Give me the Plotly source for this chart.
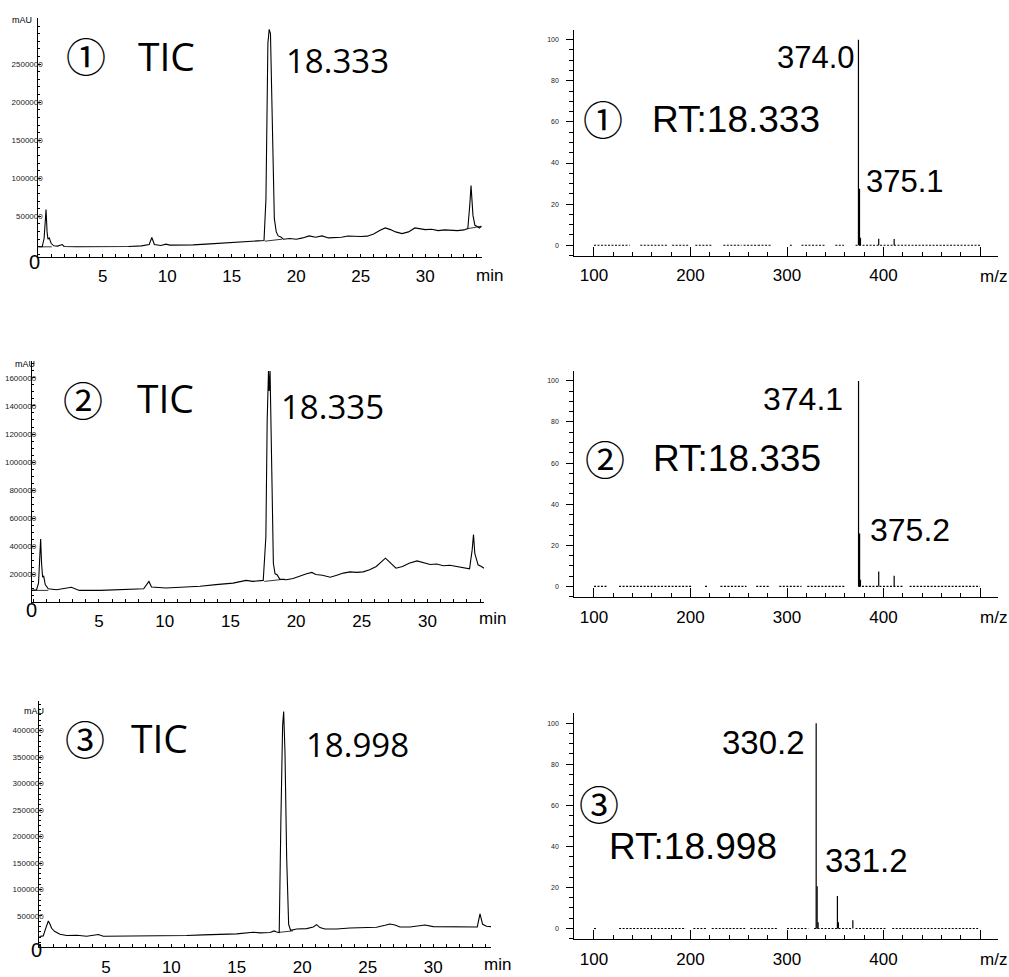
import plotly.graph_objects as go

W, H = 1009, 977

# ---------------- Chromatogram 1 (TIC, peak 18.333) ----------------
tic1_time = [0.0, 0.3, 0.45, 0.55, 0.6, 0.68, 0.75, 0.85, 1.0, 1.2, 1.5, 1.85, 2.0, 3.0, 4.0, 5.0,
             6.0, 7.0, 8.0, 8.6, 8.8, 9.0, 9.5, 9.9, 10.2, 11.0, 12.0, 13.0, 14.0, 15.0, 16.0,
             17.0, 17.5, 17.65, 17.8, 17.9, 18.0, 18.15, 18.3, 18.45, 18.6, 18.8, 19.0, 19.5,
             20.0, 20.5, 21.0, 21.5, 22.0, 22.5, 23.0, 23.5, 24.0, 24.5, 25.0, 25.5, 26.0, 26.5,
             26.9, 27.3, 27.7, 28.2, 28.7, 29.2, 29.5, 30.0, 30.5, 31.0, 31.5, 32.0, 32.5, 33.0,
             33.3, 33.45, 33.55, 33.7, 33.85, 34.0, 34.2, 34.35]
tic1_int = [100000, 100000, 209000, 556000, 591000, 296000, 200000, 217000, 143000, 113000, 109000,
            130000, 104000, 100000, 100000, 104000, 100000, 104000, 113000, 130000, 222000, 130000,
            117000, 135000, 122000, 122000, 126000, 135000, 148000, 157000, 170000, 178000, 183000,
            730000, 2774000, 2957000, 2900000, 1817000, 470000, 296000, 243000, 230000, 200000,
            209000, 200000, 217000, 243000, 226000, 243000, 217000, 217000, 226000, 243000, 235000,
            235000, 240000, 268000, 318000, 348000, 326000, 296000, 274000, 296000, 348000, 339000,
            326000, 330000, 313000, 322000, 317000, 313000, 322000, 339000, 643000, 904000, 513000,
            383000, 370000, 348000, 370000]
tic1_base_time = [[0.0, 1.05], [17.57, 18.9], [33.3, 34.35]]
tic1_base_int = [[100000, 100000], [174000, 200000], [339000, 370000]]
tic1_yticks = [500000, 1000000, 1500000, 2000000, 2500000]

# ---------------- Chromatogram 2 (TIC, peak 18.335) ----------------
tic2_time = [-0.12, 0.25, 0.4, 0.5, 0.56, 0.63, 0.71, 0.79, 0.91, 1.14, 1.77, 2.9, 3.5, 5.1, 6.3,
             7.6, 8.4, 8.8, 9.0, 10.1, 11.4, 12.7, 13.9, 15.2, 16.2, 16.7, 17.5, 17.7, 17.8, 17.9,
             17.95, 18.02, 18.15, 18.27, 18.4, 18.55, 18.76, 19.26, 19.77, 20.3, 20.8, 21.2, 21.5,
             22.0, 22.6, 23.1, 23.6, 24.1, 24.6, 25.1, 25.6, 26.1, 26.5, 26.8, 27.0, 27.3, 27.6,
             28.1, 28.6, 29.2, 29.7, 30.2, 30.7, 31.2, 31.7, 32.2, 32.8, 33.2, 33.4, 33.5, 33.6,
             33.85, 34.1, 34.3]
tic2_int = [88000, 93000, 140000, 352000, 454000, 281000, 182000, 192000, 129000, 100000, 93000,
            110000, 88000, 88000, 93000, 98000, 100000, 152000, 112000, 105000, 112000, 117000,
            129000, 140000, 159000, 152000, 159000, 470000, 1295000, 1648000, 1507000, 1648000,
            941000, 281000, 206000, 199000, 168000, 164000, 173000, 192000, 206000, 216000, 201000,
            196000, 182000, 196000, 211000, 220000, 216000, 220000, 235000, 258000, 293000, 317000,
            300000, 270000, 246000, 258000, 281000, 298000, 286000, 272000, 276000, 263000, 267000,
            258000, 246000, 241000, 376000, 486000, 352000, 270000, 258000, 246000]
tic2_base_time = [[-0.12, 1.14], [17.58, 19.15]]
tic2_base_int = [[88000, 88000], [152000, 168000]]
tic2_yticks = [200000, 400000, 600000, 800000, 1000000, 1200000, 1400000, 1600000]

# ---------------- Chromatogram 3 (TIC, peak 18.998) ----------------
tic3_time = [-0.09, 0.21, 0.42, 0.6, 0.73, 0.85, 1.1, 1.49, 2.0, 2.77, 3.53, 4.42, 4.8, 6.07, 7.35,
             8.62, 9.89, 11.17, 12.44, 13.71, 14.99, 16.26, 16.77, 17.53, 17.86, 18.04, 18.24,
             18.37, 18.5, 18.58, 18.68, 18.81, 18.96, 19.11, 19.57, 20.34, 20.84, 21.1, 21.35,
             21.73, 22.63, 23.64, 24.66, 25.68, 26.32, 26.7, 27.08, 27.46, 28.23, 28.99, 29.37,
             30.01, 31.03, 32.05, 33.06, 33.37, 33.58, 33.78, 34.08, 34.42]
tic3_int = [112000, 124000, 281000, 406000, 343000, 268000, 206000, 156000, 131000, 137000, 118000,
            150000, 118000, 118000, 124000, 118000, 131000, 131000, 143000, 150000, 162000, 193000,
            181000, 187000, 218000, 199000, 188000, 2345000, 4096000, 4358000, 3595000, 1595000,
            343000, 231000, 255000, 262000, 293000, 337000, 281000, 255000, 255000, 274000, 274000,
            287000, 324000, 349000, 330000, 293000, 293000, 324000, 330000, 299000, 293000, 287000,
            281000, 293000, 540000, 343000, 306000, 299000]
tic3_base_time = [[18.2, 19.3]]
tic3_base_int = [[190000, 220000]]
tic3_yticks = [500000, 1000000, 1500000, 2000000, 2500000, 3000000, 3500000, 4000000]

# ---------------- Mass spectra ----------------
ms1_mz = [374.0, 375.1, 376.1, 395.0, 411.0]
ms1_int = [100, 27.5, 3.6, 3.2, 3.0]
ms1_noise = [[100, 137], [148, 176], [181, 199], [205, 222], [234, 253], [255, 270], [270, 284],
             [303, 305], [315, 339], [350, 359], [371, 500]]

ms2_mz = [374.1, 375.2, 376.1, 395.0, 411.0]
ms2_int = [100, 25.8, 3.2, 7.3, 5.2]
ms2_noise = [[100, 113], [126, 201], [215, 218], [231, 258], [268, 282], [292, 315], [321, 360],
             [374, 420], [427, 500]]

ms3_mz = [330.2, 331.2, 332.2, 352.2, 353.2, 368.2]
ms3_int = [100, 20.6, 3.0, 15.8, 3.0, 4.0]
ms3_noise = [[100, 103], [126, 195], [203, 216], [222, 257], [262, 291], [300, 322], [328, 367],
             [371, 403], [409, 498]]

ms_xticks = [100, 200, 300, 400, 500]
ms_xticktext = ["100", "200", "300", "400", ""]
ms_yticks = [0, 20, 40, 60, 80, 100]
tic_xticks = [5, 10, 15, 20, 25, 30]

# ---------------- layout helpers ----------------
def px(x):
    return x / W

def py(y):
    return 1 - y / H

fig = go.Figure()

# panel geometry in pixels: (x0, x1, ytop, ybot, xrange, yrange)
panels = {
    1: (38.3, 482, 18, 258.5, [0, 34.4], [-32600, 3107000]),
    2: (31.7, 484, 363, 605.7, [-0.12, 34.3], [5650, 1721000]),
    3: (39.3, 491, 705, 953.3, [-0.09, 34.42], [-93800, 4565000]),
    4: (574.3, 998.3, 30, 257.3, [79.6, 518.9], [-5.1, 104.8]),
    5: (574.3, 998.3, 373.3, 601, [79.6, 518.9], [-5.3, 104.8]),
    6: (574.3, 998.3, 717.7, 945, [79.6, 518.9], [-5.2, 104.8]),
}

line_style = dict(color="black", width=1.1)

def add_chrom(i, t, v, bt, bv):
    xa = "x" if i == 1 else f"x{i}"
    ya = "y" if i == 1 else f"y{i}"
    fig.add_trace(go.Scatter(x=t, y=v, mode="lines", line=line_style, xaxis=xa, yaxis=ya,
                             showlegend=False, hoverinfo="skip"))
    bx, by = [], []
    for a, b in zip(bt, bv):
        bx += a + [None]
        by += b + [None]
    fig.add_trace(go.Scatter(x=bx, y=by, mode="lines", line=dict(color="black", width=0.8),
                             xaxis=xa, yaxis=ya, showlegend=False, hoverinfo="skip"))

def add_ms(i, mz, inten, noise):
    xa = f"x{i}"
    ya = f"y{i}"
    nx, ny = [], []
    for a, b in noise:
        nx += [a, b, None]
        ny += [0, 0, None]
    fig.add_trace(go.Scatter(x=nx, y=ny, mode="lines",
                             line=dict(color="black", width=1.2, dash="2px,1.5px"),
                             xaxis=xa, yaxis=ya, showlegend=False, hoverinfo="skip"))
    sx, sy = [], []
    for m, h in zip(mz, inten):
        sx += [m, m, None]
        sy += [0, h, None]
    fig.add_trace(go.Scatter(x=sx, y=sy, mode="lines", line=dict(color="black", width=1.2),
                             xaxis=xa, yaxis=ya, showlegend=False, hoverinfo="skip"))

add_chrom(1, tic1_time, tic1_int, tic1_base_time, tic1_base_int)
add_chrom(2, tic2_time, tic2_int, tic2_base_time, tic2_base_int)
add_chrom(3, tic3_time, tic3_int, tic3_base_time, tic3_base_int)
add_ms(4, ms1_mz, ms1_int, ms1_noise)
add_ms(5, ms2_mz, ms2_int, ms2_noise)
add_ms(6, ms3_mz, ms3_int, ms3_noise)

axfont = "Liberation Sans, Arial, sans-serif"
layout = {}
chrom_yticks = {1: tic1_yticks, 2: tic2_yticks, 3: tic3_yticks}
chrom_minor = {1: 100000, 2: 50000, 3: 100000}
for i, (x0, x1, yt, yb, xr, yr) in panels.items():
    xk = "xaxis" if i == 1 else f"xaxis{i}"
    yk = "yaxis" if i == 1 else f"yaxis{i}"
    ya = "y" if i == 1 else f"y{i}"
    xa = "x" if i == 1 else f"x{i}"
    xd = dict(domain=[px(x0), px(x1)], range=xr, anchor=ya, showline=True, linecolor="black",
              linewidth=1, showgrid=False, zeroline=False, fixedrange=True,
              tickfont=dict(family=axfont, size=17, color="black"))
    yd = dict(domain=[py(yb), py(yt)], range=yr, anchor=xa, showline=True, linecolor="black",
              linewidth=1, showgrid=False, zeroline=False, fixedrange=True)
    if i <= 3:
        xd.update(tickmode="array", tickvals=tic_xticks, ticks="inside", ticklen=3,
                  tickcolor="black", ticklabelstandoff=4,
                  minor=dict(ticks="inside", ticklen=3, dtick=1, tick0=0, tickcolor="black"))
        yd.update(tickmode="array", tickvals=chrom_yticks[i],
                  ticktext=[str(v) for v in chrom_yticks[i]], ticks="inside", ticklen=3,
                  tickcolor="black", ticklabelstandoff=-7,
                  tickfont=dict(family=axfont, size=8, color="#222222"),
                  minor=dict(ticks="inside", ticklen=2, dtick=chrom_minor[i], tick0=0,
                             tickcolor="black"))
    else:
        xd.update(tickmode="array", tickvals=ms_xticks, ticktext=ms_xticktext, ticks="inside",
                  ticklen=9, tickcolor="black", ticklabelstandoff=4,
                  tickfont=dict(family=axfont, size=17, color="black"),
                  minor=dict(ticks="inside", ticklen=4, dtick=20, tick0=0, tickcolor="black"))
        yd.update(tickmode="array", tickvals=ms_yticks, ticks="outside", ticklen=7,
                  tickcolor="black", ticklabelstandoff=6,
                  tickfont=dict(family=axfont, size=7, color="#222222"),
                  minor=dict(ticks="outside", ticklen=4, dtick=5, tick0=0, tickcolor="black"))
    layout[xk] = xd
    layout[yk] = yd

left_font = "Open Sans, Noto Sans, sans-serif"
circ_font = "Noto Sans CJK SC, sans-serif"
right_font = "Liberation Sans, Arial, sans-serif"
CS = 40  # circled-number font size

def ann(text, x, y, size, family, color="black"):
    return dict(text=text, x=px(x), y=py(y), xref="paper", yref="paper", xanchor="center",
                yanchor="middle", showarrow=False, font=dict(family=family, size=size, color=color))

annotations = [
    # chromatogram 1
    ann("①", 86, 55, CS, circ_font), ann("TIC", 166, 56, 39, left_font),
    ann("18.333", 337, 61, 33, left_font),
    ann("mAU", 21.5, 20, 9, right_font), ann("0", 34, 263.5, 20, right_font),
    ann("min", 489, 277, 17, right_font),
    # chromatogram 2
    ann("②", 83, 401, CS, circ_font), ann("TIC", 165, 400, 39, left_font),
    ann("18.335", 332, 409, 33, left_font),
    ann("mAU", 25, 366, 9, right_font), ann("0", 31, 614, 20, right_font),
    ann("min", 492, 622, 17, right_font),
    # chromatogram 3
    ann("③", 85, 742.5, CS, circ_font), ann("TIC", 159, 742, 39, left_font),
    ann("18.998", 357, 749, 33, left_font),
    ann("mAU", 34, 715, 9, right_font), ann("0", 36.7, 956, 20, right_font),
    ann("min", 497, 970, 17, right_font),
    # spectrum 1
    ann("374.0", 816, 58, 31, right_font), ann("①", 603, 119, CS, circ_font),
    ann("RT:18.333", 736, 120, 37, right_font), ann("375.1", 904.5, 183, 31, right_font),
    ann("m/z", 993, 278, 17, right_font),
    # spectrum 2
    ann("374.1", 803, 401, 32, right_font), ann("②", 604.7, 461, CS, circ_font),
    ann("RT:18.335", 736.7, 461.7, 37, right_font), ann("375.2", 910, 533, 32, right_font),
    ann("m/z", 993, 621, 17, right_font),
    # spectrum 3
    ann("330.2", 763, 747, 33, right_font), ann("③", 599, 808, CS, circ_font),
    ann("RT:18.998", 693, 851.7, 37, right_font), ann("331.2", 866, 866, 33, right_font),
    ann("m/z", 993, 965, 17, right_font),
]

fig.update_layout(width=W, height=H, margin=dict(l=0, r=0, t=0, b=0, pad=0),
                  paper_bgcolor="white", plot_bgcolor="white", showlegend=False,
                  annotations=annotations, **layout)

fig.write_html("out.html", config={"displayModeBar": False})
